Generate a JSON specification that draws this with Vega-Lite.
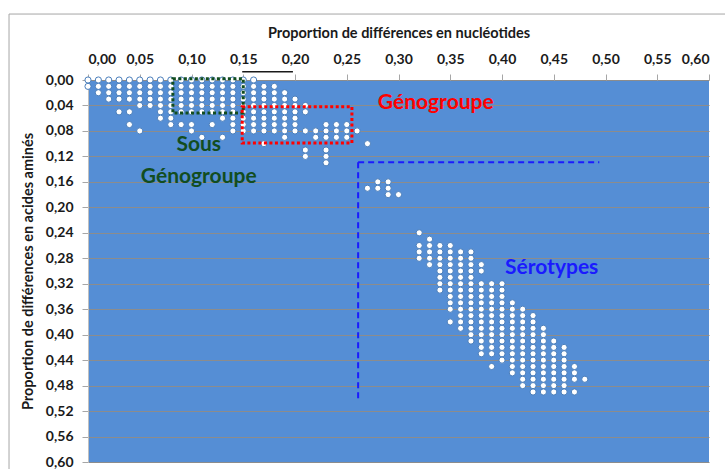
{
  "$schema": "https://vega.github.io/schema/vega-lite/v6.json",
  "width": 621,
  "height": 382,
  "autosize": {"type": "none"},
  "padding": {"left": 88, "top": 80, "right": 16, "bottom": 7},
  "background": "white",
  "config": {
    "font": "Lato",
    "view": {"fill": "#558ed5", "stroke": null},
    "axis": {"labelFont": "Lato", "labelFontWeight": "bold", "labelFontSize": 14, "labelColor": "#1a1a1a", "titleFont": "Lato", "titleFontWeight": "bold", "titleFontSize": 14.5, "titleColor": "#1a1a1a", "tickColor": "#a6a6a6", "domainColor": "#bfbfbf", "tickSize": 6, "labelOverlap": false}
  },
  "datasets": {
    "points": [
      {"nt":0,"aa":0},{"nt":0,"aa":0.01},
      {"nt":0.01,"aa":0},{"nt":0.01,"aa":0.01},{"nt":0.01,"aa":0.02},
      {"nt":0.02,"aa":0},{"nt":0.02,"aa":0.01},{"nt":0.02,"aa":0.02},{"nt":0.02,"aa":0.03},
      {"nt":0.03,"aa":0},{"nt":0.03,"aa":0.01},{"nt":0.03,"aa":0.02},{"nt":0.03,"aa":0.03},{"nt":0.03,"aa":0.05},
      {"nt":0.04,"aa":0},{"nt":0.04,"aa":0.01},{"nt":0.04,"aa":0.02},{"nt":0.04,"aa":0.03},{"nt":0.04,"aa":0.05},{"nt":0.04,"aa":0.07},
      {"nt":0.05,"aa":0},{"nt":0.05,"aa":0.01},{"nt":0.05,"aa":0.02},{"nt":0.05,"aa":0.03},{"nt":0.05,"aa":0.04},{"nt":0.05,"aa":0.08},
      {"nt":0.06,"aa":0},{"nt":0.06,"aa":0.01},{"nt":0.06,"aa":0.02},{"nt":0.06,"aa":0.03},{"nt":0.06,"aa":0.04},
      {"nt":0.07,"aa":0},{"nt":0.07,"aa":0.01},{"nt":0.07,"aa":0.02},{"nt":0.07,"aa":0.03},{"nt":0.07,"aa":0.04},{"nt":0.07,"aa":0.05},{"nt":0.07,"aa":0.06},
      {"nt":0.08,"aa":0},{"nt":0.08,"aa":0.01},{"nt":0.08,"aa":0.02},{"nt":0.08,"aa":0.03},{"nt":0.08,"aa":0.04},{"nt":0.08,"aa":0.05},{"nt":0.08,"aa":0.06},{"nt":0.08,"aa":0.07},
      {"nt":0.09,"aa":0},{"nt":0.09,"aa":0.01},{"nt":0.09,"aa":0.02},{"nt":0.09,"aa":0.03},{"nt":0.09,"aa":0.04},{"nt":0.09,"aa":0.05},{"nt":0.09,"aa":0.07},
      {"nt":0.10,"aa":0},{"nt":0.10,"aa":0.01},{"nt":0.10,"aa":0.02},{"nt":0.10,"aa":0.03},{"nt":0.10,"aa":0.04},{"nt":0.10,"aa":0.05},{"nt":0.10,"aa":0.07},{"nt":0.10,"aa":0.08},
      {"nt":0.11,"aa":0},{"nt":0.11,"aa":0.01},{"nt":0.11,"aa":0.02},{"nt":0.11,"aa":0.03},{"nt":0.11,"aa":0.04},{"nt":0.11,"aa":0.05},{"nt":0.11,"aa":0.09},
      {"nt":0.12,"aa":0},{"nt":0.12,"aa":0.01},{"nt":0.12,"aa":0.02},{"nt":0.12,"aa":0.03},{"nt":0.12,"aa":0.04},{"nt":0.12,"aa":0.05},{"nt":0.12,"aa":0.07},
      {"nt":0.13,"aa":0},{"nt":0.13,"aa":0.01},{"nt":0.13,"aa":0.02},{"nt":0.13,"aa":0.03},{"nt":0.13,"aa":0.04},{"nt":0.13,"aa":0.05},{"nt":0.13,"aa":0.06},{"nt":0.13,"aa":0.09},
      {"nt":0.14,"aa":0},{"nt":0.14,"aa":0.01},{"nt":0.14,"aa":0.02},{"nt":0.14,"aa":0.03},{"nt":0.14,"aa":0.04},{"nt":0.14,"aa":0.05},{"nt":0.14,"aa":0.06},{"nt":0.14,"aa":0.07},{"nt":0.14,"aa":0.08},
      {"nt":0.15,"aa":0},{"nt":0.15,"aa":0.01},{"nt":0.15,"aa":0.02},{"nt":0.15,"aa":0.03},{"nt":0.15,"aa":0.04},{"nt":0.15,"aa":0.05},{"nt":0.15,"aa":0.06},{"nt":0.15,"aa":0.07},{"nt":0.15,"aa":0.08},
      {"nt":0.16,"aa":0},{"nt":0.16,"aa":0.01},{"nt":0.16,"aa":0.02},{"nt":0.16,"aa":0.03},{"nt":0.16,"aa":0.04},{"nt":0.16,"aa":0.05},{"nt":0.16,"aa":0.06},{"nt":0.16,"aa":0.07},{"nt":0.16,"aa":0.08},
      {"nt":0.17,"aa":0.01},{"nt":0.17,"aa":0.02},{"nt":0.17,"aa":0.03},{"nt":0.17,"aa":0.04},{"nt":0.17,"aa":0.05},{"nt":0.17,"aa":0.06},{"nt":0.17,"aa":0.07},{"nt":0.17,"aa":0.08},{"nt":0.17,"aa":0.10},
      {"nt":0.18,"aa":0.01},{"nt":0.18,"aa":0.02},{"nt":0.18,"aa":0.03},{"nt":0.18,"aa":0.04},{"nt":0.18,"aa":0.05},{"nt":0.18,"aa":0.06},{"nt":0.18,"aa":0.07},{"nt":0.18,"aa":0.08},
      {"nt":0.19,"aa":0.02},{"nt":0.19,"aa":0.03},{"nt":0.19,"aa":0.04},{"nt":0.19,"aa":0.05},{"nt":0.19,"aa":0.06},{"nt":0.19,"aa":0.07},{"nt":0.19,"aa":0.08},{"nt":0.19,"aa":0.09},
      {"nt":0.20,"aa":0.03},{"nt":0.20,"aa":0.04},{"nt":0.20,"aa":0.05},{"nt":0.20,"aa":0.06},{"nt":0.20,"aa":0.07},{"nt":0.20,"aa":0.08},
      {"nt":0.21,"aa":0.04},{"nt":0.21,"aa":0.05},{"nt":0.21,"aa":0.08},{"nt":0.21,"aa":0.11},{"nt":0.21,"aa":0.12},
      {"nt":0.22,"aa":0.08},{"nt":0.22,"aa":0.09},
      {"nt":0.23,"aa":0.07},{"nt":0.23,"aa":0.08},{"nt":0.23,"aa":0.09},{"nt":0.23,"aa":0.11},{"nt":0.23,"aa":0.12},{"nt":0.23,"aa":0.13},
      {"nt":0.24,"aa":0.07},{"nt":0.24,"aa":0.08},{"nt":0.24,"aa":0.09},
      {"nt":0.25,"aa":0.07},{"nt":0.25,"aa":0.08},{"nt":0.25,"aa":0.09},
      {"nt":0.26,"aa":0.08},
      {"nt":0.27,"aa":0.10},{"nt":0.27,"aa":0.17},
      {"nt":0.28,"aa":0.16},{"nt":0.28,"aa":0.17},
      {"nt":0.29,"aa":0.16},{"nt":0.29,"aa":0.17},{"nt":0.29,"aa":0.18},
      {"nt":0.30,"aa":0.18},
      {"nt":0.32,"aa":0.24},{"nt":0.32,"aa":0.26},{"nt":0.32,"aa":0.27},{"nt":0.32,"aa":0.28},
      {"nt":0.33,"aa":0.25},{"nt":0.33,"aa":0.26},{"nt":0.33,"aa":0.27},{"nt":0.33,"aa":0.28},{"nt":0.33,"aa":0.29},
      {"nt":0.34,"aa":0.26},{"nt":0.34,"aa":0.27},{"nt":0.34,"aa":0.28},{"nt":0.34,"aa":0.29},{"nt":0.34,"aa":0.30},{"nt":0.34,"aa":0.31},{"nt":0.34,"aa":0.32},{"nt":0.34,"aa":0.33},
      {"nt":0.35,"aa":0.26},{"nt":0.35,"aa":0.27},{"nt":0.35,"aa":0.28},{"nt":0.35,"aa":0.29},{"nt":0.35,"aa":0.30},{"nt":0.35,"aa":0.31},{"nt":0.35,"aa":0.32},{"nt":0.35,"aa":0.33},{"nt":0.35,"aa":0.34},{"nt":0.35,"aa":0.35},{"nt":0.35,"aa":0.36},{"nt":0.35,"aa":0.38},
      {"nt":0.36,"aa":0.27},{"nt":0.36,"aa":0.28},{"nt":0.36,"aa":0.29},{"nt":0.36,"aa":0.30},{"nt":0.36,"aa":0.31},{"nt":0.36,"aa":0.32},{"nt":0.36,"aa":0.33},{"nt":0.36,"aa":0.34},{"nt":0.36,"aa":0.35},{"nt":0.36,"aa":0.36},{"nt":0.36,"aa":0.37},{"nt":0.36,"aa":0.38},{"nt":0.36,"aa":0.39},
      {"nt":0.37,"aa":0.27},{"nt":0.37,"aa":0.28},{"nt":0.37,"aa":0.29},{"nt":0.37,"aa":0.30},{"nt":0.37,"aa":0.31},{"nt":0.37,"aa":0.32},{"nt":0.37,"aa":0.33},{"nt":0.37,"aa":0.34},{"nt":0.37,"aa":0.35},{"nt":0.37,"aa":0.36},{"nt":0.37,"aa":0.37},{"nt":0.37,"aa":0.38},{"nt":0.37,"aa":0.39},{"nt":0.37,"aa":0.40},{"nt":0.37,"aa":0.41},
      {"nt":0.38,"aa":0.29},{"nt":0.38,"aa":0.30},{"nt":0.38,"aa":0.32},{"nt":0.38,"aa":0.33},{"nt":0.38,"aa":0.34},{"nt":0.38,"aa":0.35},{"nt":0.38,"aa":0.36},{"nt":0.38,"aa":0.37},{"nt":0.38,"aa":0.38},{"nt":0.38,"aa":0.39},{"nt":0.38,"aa":0.40},{"nt":0.38,"aa":0.41},{"nt":0.38,"aa":0.42},{"nt":0.38,"aa":0.43},
      {"nt":0.39,"aa":0.32},{"nt":0.39,"aa":0.33},{"nt":0.39,"aa":0.34},{"nt":0.39,"aa":0.35},{"nt":0.39,"aa":0.36},{"nt":0.39,"aa":0.37},{"nt":0.39,"aa":0.38},{"nt":0.39,"aa":0.39},{"nt":0.39,"aa":0.40},{"nt":0.39,"aa":0.41},{"nt":0.39,"aa":0.42},{"nt":0.39,"aa":0.43},{"nt":0.39,"aa":0.45},
      {"nt":0.40,"aa":0.32},{"nt":0.40,"aa":0.33},{"nt":0.40,"aa":0.34},{"nt":0.40,"aa":0.35},{"nt":0.40,"aa":0.36},{"nt":0.40,"aa":0.37},{"nt":0.40,"aa":0.38},{"nt":0.40,"aa":0.39},{"nt":0.40,"aa":0.40},{"nt":0.40,"aa":0.41},{"nt":0.40,"aa":0.42},{"nt":0.40,"aa":0.43},{"nt":0.40,"aa":0.44},
      {"nt":0.41,"aa":0.35},{"nt":0.41,"aa":0.36},{"nt":0.41,"aa":0.37},{"nt":0.41,"aa":0.38},{"nt":0.41,"aa":0.39},{"nt":0.41,"aa":0.40},{"nt":0.41,"aa":0.41},{"nt":0.41,"aa":0.42},{"nt":0.41,"aa":0.43},{"nt":0.41,"aa":0.44},{"nt":0.41,"aa":0.45},{"nt":0.41,"aa":0.46},
      {"nt":0.42,"aa":0.36},{"nt":0.42,"aa":0.37},{"nt":0.42,"aa":0.38},{"nt":0.42,"aa":0.39},{"nt":0.42,"aa":0.40},{"nt":0.42,"aa":0.41},{"nt":0.42,"aa":0.42},{"nt":0.42,"aa":0.43},{"nt":0.42,"aa":0.44},{"nt":0.42,"aa":0.45},{"nt":0.42,"aa":0.46},{"nt":0.42,"aa":0.47},{"nt":0.42,"aa":0.48},
      {"nt":0.43,"aa":0.37},{"nt":0.43,"aa":0.38},{"nt":0.43,"aa":0.39},{"nt":0.43,"aa":0.40},{"nt":0.43,"aa":0.41},{"nt":0.43,"aa":0.42},{"nt":0.43,"aa":0.43},{"nt":0.43,"aa":0.44},{"nt":0.43,"aa":0.45},{"nt":0.43,"aa":0.46},{"nt":0.43,"aa":0.47},{"nt":0.43,"aa":0.48},{"nt":0.43,"aa":0.49},
      {"nt":0.44,"aa":0.39},{"nt":0.44,"aa":0.40},{"nt":0.44,"aa":0.41},{"nt":0.44,"aa":0.42},{"nt":0.44,"aa":0.43},{"nt":0.44,"aa":0.44},{"nt":0.44,"aa":0.45},{"nt":0.44,"aa":0.46},{"nt":0.44,"aa":0.47},{"nt":0.44,"aa":0.48},{"nt":0.44,"aa":0.49},
      {"nt":0.45,"aa":0.41},{"nt":0.45,"aa":0.42},{"nt":0.45,"aa":0.43},{"nt":0.45,"aa":0.44},{"nt":0.45,"aa":0.45},{"nt":0.45,"aa":0.46},{"nt":0.45,"aa":0.47},{"nt":0.45,"aa":0.48},{"nt":0.45,"aa":0.49},
      {"nt":0.46,"aa":0.42},{"nt":0.46,"aa":0.43},{"nt":0.46,"aa":0.44},{"nt":0.46,"aa":0.45},{"nt":0.46,"aa":0.46},{"nt":0.46,"aa":0.47},{"nt":0.46,"aa":0.48},{"nt":0.46,"aa":0.49},
      {"nt":0.47,"aa":0.45},{"nt":0.47,"aa":0.46},{"nt":0.47,"aa":0.47},{"nt":0.47,"aa":0.49},
      {"nt":0.48,"aa":0.47}
    ],
    "boxes": [
      {"group":"Sous-génogroupe","nt":0.082,"nt2":0.150,"aa":-0.002,"aa2":0.052},
      {"group":"Génogroupe","nt":0.149,"nt2":0.255,"aa":0.042,"aa2":0.099}
    ],
    "dashes": [
      {"nt":0.261,"nt2":0.261,"aa":0.129,"aa2":0.504},
      {"nt":0.261,"nt2":0.494,"aa":0.129,"aa2":0.129}
    ],
    "topline": [
      {"nt":0.149,"nt2":0.198,"aa":-0.013,"aa2":-0.013}
    ],
    "frame": [
      {"nt":-0.0763,"nt2":0.625,"aa":-0.1036,"aa2":0.66}
    ],
    "labels": [
      {"text":"Génogroupe","group":"Génogroupe","nt":0.336,"aa":0.036},
      {"text":"Sous","group":"Sous-génogroupe","nt":0.107,"aa":0.102},
      {"text":"Génogroupe","group":"Sous-génogroupe","nt":0.107,"aa":0.152},
      {"text":"Sérotypes","group":"Sérotypes","nt":0.448,"aa":0.295}
    ]
  },
  "encoding": {
    "x": {"field": "nt", "type": "quantitative", "scale": {"domain": [0, 0.6], "nice": false},
      "axis": {"orient": "top", "title": "Proportion de différences en nucléotides", "values": [0,0.05,0.1,0.15,0.2,0.25,0.3,0.35,0.4,0.45,0.5,0.55,0.6], "labelExpr": "replace(format(datum.value, '.2f'), '.', ',')", "grid": false, "labelPadding": 8, "titlePadding": 12, "domain": false, "labelOverlap": false}},
    "y": {"field": "aa", "type": "quantitative", "scale": {"domain": [0, 0.6], "nice": false, "reverse": true},
      "axis": {"title": "Proportion de différences en acides aminés", "values": [0,0.04,0.08,0.12,0.16,0.2,0.24,0.28,0.32,0.36,0.4,0.44,0.48,0.52,0.56,0.6], "labelExpr": "replace(format(datum.value, '.2f'), '.', ',')", "grid": true, "gridColor": "#8c8c8c", "gridWidth": 1, "labelPadding": 9, "minExtent": 45, "maxExtent": 45, "titlePadding": 8, "labelOverlap": false}}
  },
  "layer": [
    {
      "data": {"name": "frame"},
      "mark": {"type": "rect", "fillOpacity": 0, "stroke": "#a6a6a6", "strokeWidth": 1},
      "encoding": {"x2": {"field": "nt2"}, "y2": {"field": "aa2"}}
    },
    {
      "data": {"name": "points"},
      "mark": {"type": "circle", "fill": "white", "stroke": "#4a7ebb", "strokeWidth": 1, "size": 38, "opacity": 1}
    },
    {
      "data": {"name": "boxes"},
      "mark": {"type": "rect", "fillOpacity": 0, "strokeWidth": 3, "strokeDash": [3, 2.5]},
      "encoding": {
        "x2": {"field": "nt2"},
        "y2": {"field": "aa2"},
        "stroke": {"field": "group", "type": "nominal", "scale": {"domain": ["Sous-génogroupe", "Génogroupe", "Sérotypes"], "range": ["#124d1f", "#ff0000", "#1a1aff"]}, "legend": null}
      }
    },
    {
      "data": {"name": "dashes"},
      "mark": {"type": "rule", "color": "#1a1aff", "strokeWidth": 2, "strokeDash": [6, 4]},
      "encoding": {"x2": {"field": "nt2"}, "y2": {"field": "aa2"}}
    },
    {
      "data": {"name": "topline"},
      "mark": {"type": "rule", "color": "#1a1a1a", "strokeWidth": 1.5},
      "encoding": {"x2": {"field": "nt2"}, "y2": {"field": "aa2"}}
    },
    {
      "data": {"name": "labels"},
      "mark": {"type": "text", "font": "Lato", "fontWeight": "bold", "fontSize": 21, "align": "center", "baseline": "middle"},
      "encoding": {
        "text": {"field": "text"},
        "color": {"field": "group", "type": "nominal", "scale": {"domain": ["Sous-génogroupe", "Génogroupe", "Sérotypes"], "range": ["#124d1f", "#ff0000", "#1a1aff"]}, "legend": null}
      }
    }
  ]
}
